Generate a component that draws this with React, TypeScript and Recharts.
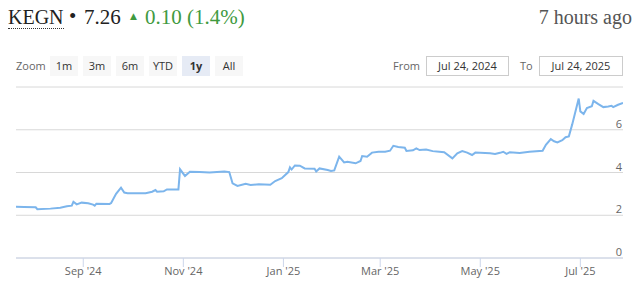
import React from 'react';
import { LineChart, Line, XAxis, YAxis, CartesianGrid } from 'recharts';

// days since Jul 22, 2024
const dayOffsets = [
  0, 5, 12, 13, 21, 27, 31, 34, 35, 37, 40, 44, 47, 48, 49, 57, 58, 61, 64, 66,
  68, 73, 79, 83, 85, 86, 90, 92, 99, 100, 103, 106, 112, 118, 127, 130, 132, 135, 140, 143,
  148, 155, 158, 162, 166, 167, 168, 170, 173, 176, 182, 183, 185, 190, 192, 194, 197, 200, 202, 207,
  210, 211, 214, 217, 221, 225, 228, 230, 233, 237, 238, 242, 244, 246, 250, 254, 258, 261, 266, 269,
  272, 275, 278, 280, 289, 292, 295, 297, 299, 301, 307, 313, 321, 323, 326, 328, 330, 333, 335, 337,
  339, 343, 344, 346, 348, 351, 352, 355, 358, 361, 363, 364, 367, 370,
];
const prices = [
  2.4, 2.39, 2.37, 2.28, 2.31, 2.35, 2.42, 2.45, 2.63, 2.51, 2.59, 2.56, 2.5, 2.45, 2.54, 2.53, 2.57, 3.0, 3.29, 3.06,
  3.03, 3.03, 3.03, 3.1, 3.18, 3.1, 3.12, 3.21, 3.21, 4.15, 3.84, 4.04, 4.02, 4.0, 4.05, 4.02, 3.49, 3.37, 3.47, 3.42,
  3.45, 3.43, 3.6, 3.73, 4.02, 4.24, 4.14, 4.33, 4.32, 4.19, 4.18, 4.05, 4.19, 4.12, 4.07, 4.1, 4.74, 4.47, 4.5, 4.43,
  4.54, 4.77, 4.74, 4.93, 4.97, 4.97, 5.02, 5.25, 5.19, 5.16, 5.01, 5.04, 5.13, 5.05, 5.08, 5.0, 4.97, 4.95, 4.66, 4.9,
  5.0, 4.93, 4.82, 4.93, 4.9, 4.87, 4.92, 4.97, 4.87, 4.95, 4.91, 4.97, 5.02, 5.3, 5.56, 5.46, 5.41, 5.51, 5.65, 5.69,
  6.24, 7.46, 6.86, 6.74, 7.02, 7.1, 7.35, 7.2, 7.06, 7.09, 7.12, 7.06, 7.17, 7.26,
];
const xTickDays = [41, 102, 163, 222, 283, 344];
const xTickLabels = ["Sep '24", "Nov '24", "Jan '25", "Mar '25", "May '25", "Jul '25"];
const yTicks = [0, 2, 4, 6, 8];
const zoomButtons = ['1m', '3m', '6m', 'YTD', '1y', 'All'];
const selectedZoom = '1y';
const fromDate = 'Jul 24, 2024';
const toDate = 'Jul 24, 2025';

const data = dayOffsets.map((d, i) => ({ d, price: prices[i] }));

const SANS = '"Open Sans", "DejaVu Sans", sans-serif';
const SERIF = '"Liberation Serif", "DejaVu Serif", serif';

const YTick = (props: any) => {
  const { x, y, payload } = props;
  if (payload.value === 8) return <g />;
  return (
    <text x={x} y={y - 2} textAnchor="end" fill="#666" fontSize={11} fontFamily={SANS}>
      {payload.value}
    </text>
  );
};

const XTick = (props: any) => {
  const { x, y, payload } = props;
  const idx = xTickDays.indexOf(payload.value);
  return (
    <text x={x} y={y + 8} textAnchor="middle" fill="#666" fontSize={11} fontFamily={SANS}>
      {idx >= 0 ? xTickLabels[idx] : ''}
    </text>
  );
};

export default function App() {
  return (
    <div style={{ position: 'absolute', left: 0, top: 0, width: 640, height: 286, background: '#fff', overflow: 'hidden' }}>
      {/* header */}
      <div style={{ position: 'absolute', left: 8, top: 6, fontFamily: SERIF, fontSize: 20, lineHeight: '22px', color: '#222', whiteSpace: 'nowrap' }}>
        <span style={{ borderBottom: '1px dotted #333' }}>KEGN</span>
      </div>
      <div style={{ position: 'absolute', left: 69, top: 5, fontFamily: SERIF, fontSize: 21, lineHeight: '22px', color: '#222' }}>•</div>
      <div style={{ position: 'absolute', left: 84, top: 6, fontFamily: SERIF, fontSize: 21, lineHeight: '22px', color: '#222' }}>7.26</div>
      <div style={{ position: 'absolute', left: 130, top: 9, fontFamily: SANS, fontSize: 9, lineHeight: '14px', color: '#3f9a3f' }}>▲</div>
      <div style={{ position: 'absolute', left: 145, top: 6, fontFamily: SERIF, fontSize: 21, lineHeight: '22px', color: '#3f9a3f', whiteSpace: 'nowrap' }}>0.10 (1.4%)</div>
      <div style={{ position: 'absolute', right: 8, top: 6, fontFamily: SERIF, fontSize: 20, lineHeight: '22px', color: '#555', whiteSpace: 'nowrap' }}>7 hours ago</div>

      {/* range selector */}
      <div style={{ position: 'absolute', left: 16, top: 56, height: 20, lineHeight: '20px', fontFamily: SANS, fontSize: 11, color: '#666' }}>Zoom</div>
      {zoomButtons.map((b, i) => (
        <div
          key={b}
          style={{
            position: 'absolute',
            left: 50 + i * 33,
            top: 56,
            width: 28,
            height: 20,
            lineHeight: '20px',
            textAlign: 'center',
            fontFamily: SANS,
            fontSize: 11,
            fontWeight: b === selectedZoom ? 700 : 400,
            color: '#333',
            background: b === selectedZoom ? '#e6ebf5' : '#f7f7f7',
          }}
        >
          {b}
        </div>
      ))}
      <div style={{ position: 'absolute', left: 393, top: 56, height: 20, lineHeight: '20px', fontFamily: SANS, fontSize: 11, color: '#666' }}>From</div>
      <div style={{ position: 'absolute', left: 426, top: 56, width: 81, height: 18, lineHeight: '18px', border: '1px solid #cccccc', fontFamily: SANS, fontSize: 11, color: '#333', textAlign: 'center' }}>{fromDate}</div>
      <div style={{ position: 'absolute', left: 520, top: 56, height: 20, lineHeight: '20px', fontFamily: SANS, fontSize: 11, color: '#666' }}>To</div>
      <div style={{ position: 'absolute', left: 539, top: 56, width: 82, height: 18, lineHeight: '18px', border: '1px solid #cccccc', fontFamily: SANS, fontSize: 11, color: '#333', textAlign: 'center' }}>{toDate}</div>

      {/* chart */}
      <div style={{ position: 'absolute', left: 0, top: 80, width: 640, height: 206 }}>
        <LineChart width={640} height={206} data={data} margin={{ top: 7, right: 17, left: 16, bottom: 0 }}>
          <CartesianGrid horizontal vertical={false} stroke="#d8d8d8" />
          <XAxis
            dataKey="d"
            type="number"
            domain={[0, 370]}
            ticks={xTickDays}
            tick={<XTick />}
            height={28}
            axisLine={{ stroke: '#ccd6eb' }}
            tickLine={{ stroke: '#ccd6eb' }}
            tickSize={9}
            tickMargin={0}
            allowDataOverflow
          />
          <YAxis
            orientation="right"
            mirror
            domain={[0, 8]}
            ticks={yTicks}
            axisLine={false}
            tickLine={false}
            tickSize={0}
            tickMargin={1}
            tick={<YTick />}
          />
          <Line
            type="linear"
            dataKey="price"
            stroke="#7cb5ec"
            strokeWidth={2}
            dot={false}
            isAnimationActive={false}
          />
        </LineChart>
      </div>
    </div>
  );
}
